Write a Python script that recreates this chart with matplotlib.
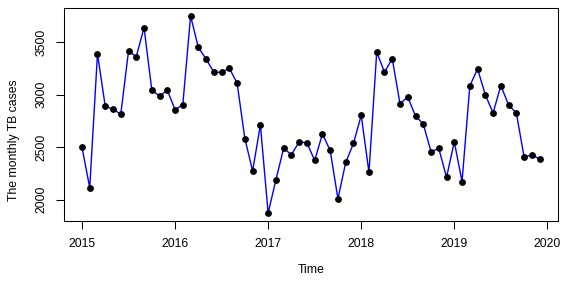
import numpy as np
import matplotlib
matplotlib.use("Agg")
import matplotlib.pyplot as plt

plt.rcParams['font.family'] = ['Liberation Sans', 'DejaVu Sans']

# monthly TB cases, Jan 2015 - Dec 2019
cases_2015 = [2500, 2111, 3392, 2889, 2864, 2813, 3417, 3364, 3642, 3047, 2987, 3044]
cases_2016 = [2857, 2905, 3753, 3452, 3342, 3215, 3215, 3253, 3111, 2582, 2272, 2712]
cases_2017 = [1870, 2187, 2490, 2427, 2551, 2541, 2373, 2626, 2468, 2006, 2354, 2535]
cases_2018 = [2804, 2259, 3408, 3215, 3345, 2914, 2978, 2797, 2721, 2456, 2487, 2212]
cases_2019 = [2551, 2171, 3085, 3247, 3000, 2826, 3088, 2902, 2826, 2405, 2427, 2386]
start_year = 2015
x_ticks = [2015, 2016, 2017, 2018, 2019, 2020]
y_ticks = [2000, 2500, 3000, 3500]

cases = np.array(cases_2015 + cases_2016 + cases_2017 + cases_2018 + cases_2019)
time = start_year + np.arange(len(cases)) / 12.0

fig = plt.figure(figsize=(5.67, 2.81), dpi=100)
ax = fig.add_axes([0.1123, 0.2135, 0.8717, 0.758])

ax.plot(time, cases, color="blue", lw=1.0, zorder=2)
ax.plot(time, cases, "o", color="black", ms=3.9, zorder=3)

# R-style 4% padding
xr = time.max() - time.min()
yr = cases.max() - cases.min()
ax.set_xlim(time.min() - 0.04 * xr, time.max() + 0.04 * xr)
ax.set_ylim(cases.min() - 0.04 * yr, cases.max() + 0.04 * yr)

ax.set_xticks(x_ticks)
ax.set_yticks(y_ticks)
ax.set_xticklabels([str(t) for t in x_ticks])
ax.set_yticklabels([str(t) for t in y_ticks], rotation=90, va="center")
ax.tick_params(axis="both", direction="out", length=5.5, width=0.75,
               labelsize=8.8, colors="black")
ax.tick_params(axis="x", pad=7)
ax.tick_params(axis="y", pad=6)
for s in ax.spines.values():
    s.set_linewidth(0.75)
    s.set_color("black")

fig.text(0.5495, 0.039, "Time", ha="center", va="center", fontsize=8.8)
fig.text(0.0247, 0.5, "The monthly TB cases", ha="center", va="center",
         rotation=90, fontsize=8.8)

fig.savefig("out.png", dpi=100)
